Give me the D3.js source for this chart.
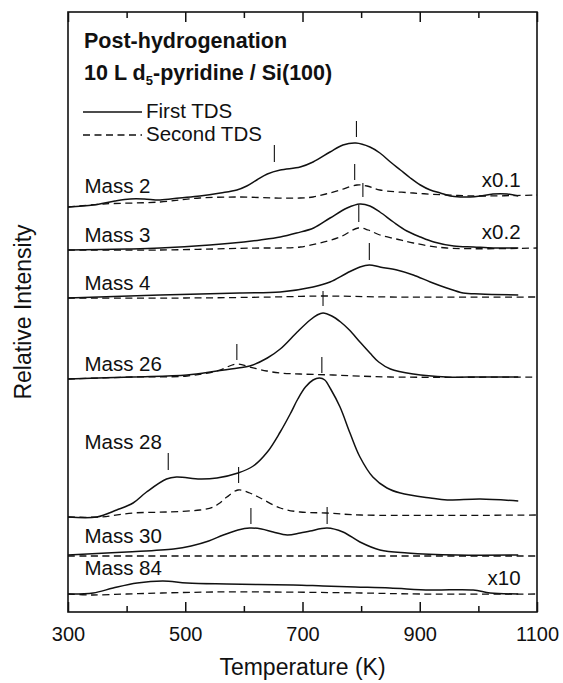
<!DOCTYPE html>
<html>
<head>
<meta charset="utf-8">
<script src="https://cdn.jsdelivr.net/npm/d3@7"></script>
<style>
  html, body { margin: 0; padding: 0; background: #fff; }
  svg { display: block; font-family: "Liberation Sans", Arial, Helvetica, sans-serif; }
</style>
</head>
<body>
<svg id="chart" width="563" height="683"></svg>
<script>
// Temperature ticks (K)
const majorTicks = [300, 500, 700, 900, 1100];
const minorTicks = [400, 600, 800, 1000];

// Traces: temperature (K) and stacked relative intensity (arbitrary units, offsets included)
const m2FirstT  = [300, 343, 380, 406, 430, 457, 490, 525, 560, 588, 605, 622, 640, 662, 696, 718, 747, 769, 791, 815, 832, 850, 867, 884, 901, 918, 935, 952, 969, 986, 1003, 1025, 1049, 1068];
const m2FirstI  = [405, 407, 411, 413, 413, 412, 414, 416, 419, 422, 426, 432, 438, 442, 445, 450, 460, 467, 469, 465, 459, 450, 442, 434, 427, 422, 419, 416, 415, 415, 416, 418, 418, 416];
const m2SecondT = [300, 360, 457, 525, 593, 650, 696, 718, 740, 764, 793, 810, 832, 889, 946, 1000, 1100];
const m2SecondI = [405, 408, 410, 414, 415, 414, 414, 415, 418, 422, 427, 426, 422, 419, 417, 416, 417];

const m3FirstT  = [300, 400, 457, 542, 600, 628, 662, 690, 719, 747, 776, 798, 815, 832, 855, 878, 901, 924, 958, 992, 1026, 1068];
const m3FirstI  = [362, 363, 364, 367, 370, 372, 375, 379, 384, 394, 404, 408, 406, 400, 390, 381, 375, 370, 366, 365, 364, 364];
const m3SecondT = [300, 457, 628, 662, 696, 730, 764, 795, 812, 832, 860, 889, 946, 1100];
const m3SecondI = [362, 362, 364, 364, 365, 369, 375, 384, 382, 377, 373, 369, 364, 364];

const m4FirstT  = [300, 457, 593, 662, 718, 747, 776, 798, 814, 832, 861, 889, 918, 946, 974, 1003, 1068];
const m4FirstI  = [314, 317, 319, 320, 325, 330, 339, 345, 347, 345, 342, 337, 330, 324, 319, 318, 317];
const m4SecondT = [300, 500, 650, 735, 850, 1100];
const m4SecondI = [314, 314, 315, 316, 315, 315];

const m26FirstT  = [300, 411, 503, 554, 590, 610, 640, 662, 691, 713, 725, 735, 750, 765, 780, 798, 815, 830, 850, 889, 946, 1003, 1068];
const m26FirstI  = [233, 235, 237, 241, 244, 246, 254, 263, 280, 292, 297, 299, 296, 290, 282, 270, 259, 250, 243, 238, 235, 235, 235];
const m26SecondT = [300, 411, 503, 554, 588, 610, 639, 662, 696, 752, 850, 1100];
const m26SecondI = [233, 235, 236, 241, 248, 245, 241, 239, 238, 237, 235, 235];

const m28FirstT  = [300, 349, 383, 411, 434, 468, 485, 525, 554, 590, 616, 640, 662, 679, 692, 705, 718, 729, 738, 748, 764, 781, 798, 820, 844, 867, 918, 947, 1003, 1068];
const m28FirstI  = [95, 95, 102, 109, 120, 133, 135, 133, 134, 139, 146, 160, 180, 198, 213, 225, 232, 234, 232, 223, 205, 179, 155, 135, 124, 119, 114, 112, 113, 111];
const m28SecondT = [300, 355, 411, 468, 525, 548, 559, 571, 590, 610, 628, 662, 696, 740, 800, 1100];
const m28SecondI = [95, 95, 99, 100, 102, 105, 109, 115, 122, 119, 114, 104, 100, 99, 97, 97];

const m30FirstT  = [300, 400, 480, 510, 540, 565, 590, 610, 630, 650, 674, 696, 713, 742, 769, 798, 832, 879, 964, 1068];
const m30FirstI  = [57, 60, 63, 66, 71, 77, 82, 84, 83, 80, 77, 79, 81, 84, 80, 70, 62, 59, 57, 57];
const m30SecondT = [300, 600, 900, 1100];
const m30SecondI = [56, 56, 56, 56];

const m84FirstT  = [300, 343, 377, 418, 462, 503, 571, 684, 735, 790, 849, 918, 991, 1020, 1068];
const m84FirstI  = [18, 19, 24, 29, 31, 29, 28, 27, 26, 25, 24, 22, 22, 19, 18];
const m84SecondT = [300, 340, 400, 460, 550, 650, 800, 900, 1100];
const m84SecondI = [18, 17, 18, 19, 20, 20, 19, 18, 18];

// Peak position markers: temperature and vertical extent (intensity units)
const markerT      = [652, 792, 789, 803, 796, 814, 735, 588, 471, 733, 591, 612, 742];
const markerTop    = [467, 491, 448, 429, 407, 369, 321, 268, 159, 255, 145, 104, 105];
const markerBottom = [450, 475, 432, 415, 390, 352, 306, 252, 142, 239, 129,  88,  88];

// Trace labels and scale factors
const massLabels  = ["Mass 2", "Mass 3", "Mass 4", "Mass 26", "Mass 28", "Mass 30", "Mass 84"];
const scaleLabels = ["x0.1", "x0.2", "x10"];

const svg = d3.select("#chart");
const margin = { left: 68, right: 26, top: 12, bottom: 71 };
const W = 563, H = 683;

const x = d3.scaleLinear().domain([300, 1100]).range([margin.left, W - margin.right]);
const y = d3.scaleLinear().domain([0, 600]).range([H - margin.bottom, margin.top]);

const ink = "#111";

const line = d3.line()
  .x(d => x(d[0]))
  .y(d => y(d[1]))
  .curve(d3.curveCatmullRom.alpha(0.5));

const zip = (a, b) => a.map((t, i) => [t, b[i]]);

const traces = [
  [m2FirstT, m2FirstI, m2SecondT, m2SecondI],
  [m3FirstT, m3FirstI, m3SecondT, m3SecondI],
  [m4FirstT, m4FirstI, m4SecondT, m4SecondI],
  [m26FirstT, m26FirstI, m26SecondT, m26SecondI],
  [m28FirstT, m28FirstI, m28SecondT, m28SecondI],
  [m30FirstT, m30FirstI, m30SecondT, m30SecondI],
  [m84FirstT, m84FirstI, m84SecondT, m84SecondI]
];

const plot = svg.append("g");

// second desorption run (dashed)
plot.selectAll("path.second")
  .data(traces)
  .join("path")
  .attr("class", "second")
  .attr("d", d => line(zip(d[2], d[3])))
  .attr("fill", "none")
  .attr("stroke", ink)
  .attr("stroke-width", 1.3)
  .attr("stroke-dasharray", "7,4.5");

// first desorption run (solid)
plot.selectAll("path.first")
  .data(traces)
  .join("path")
  .attr("class", "first")
  .attr("d", d => line(zip(d[0], d[1])))
  .attr("fill", "none")
  .attr("stroke", ink)
  .attr("stroke-width", 1.5);

// peak markers
plot.selectAll("line.marker")
  .data(markerT.map((t, i) => ({ t, top: markerTop[i], bottom: markerBottom[i] })))
  .join("line")
  .attr("class", "marker")
  .attr("x1", d => x(d.t)).attr("x2", d => x(d.t))
  .attr("y1", d => y(d.top)).attr("y2", d => y(d.bottom))
  .attr("stroke", ink)
  .attr("stroke-width", 1.1);

// frame
svg.append("rect")
  .attr("x", x(300)).attr("y", y(600))
  .attr("width", x(1100) - x(300)).attr("height", y(0) - y(600))
  .attr("fill", "none").attr("stroke", ink).attr("stroke-width", 1.6);

// bottom axis: inward ticks, labels below
const xMajor = svg.append("g")
  .attr("transform", `translate(0,${y(0)})`)
  .call(d3.axisBottom(x).tickValues(majorTicks).tickSize(-10).tickPadding(15).tickFormat(d3.format("d")));
const xMinor = svg.append("g")
  .attr("transform", `translate(0,${y(0)})`)
  .call(d3.axisBottom(x).tickValues(minorTicks).tickSize(-6).tickFormat(""));
// top axis: inward ticks only
const tMajor = svg.append("g")
  .attr("transform", `translate(0,${y(600)})`)
  .call(d3.axisTop(x).tickValues(majorTicks).tickSize(-10).tickFormat(""));
const tMinor = svg.append("g")
  .attr("transform", `translate(0,${y(600)})`)
  .call(d3.axisTop(x).tickValues(minorTicks).tickSize(-6).tickFormat(""));

[xMajor, xMinor, tMajor, tMinor].forEach(g => {
  g.select(".domain").remove();
  g.selectAll(".tick line").attr("stroke", ink).attr("stroke-width", 1.5);
});
xMajor.selectAll(".tick text")
  .attr("fill", ink)
  .style("font-size", "20px")
  .style("font-family", "'Liberation Sans', Arial, sans-serif");

// axis titles
svg.append("text")
  .attr("x", (x(300) + x(1100)) / 2).attr("y", 675)
  .attr("text-anchor", "middle")
  .attr("fill", ink)
  .style("font-size", "23px")
  .text("Temperature (K)");

svg.append("text")
  .attr("transform", `translate(31,${(y(0) + y(600)) / 2}) rotate(-90)`)
  .attr("text-anchor", "middle")
  .attr("fill", ink)
  .style("font-size", "23px")
  .text("Relative Intensity");

// heading
svg.append("text")
  .attr("x", 84).attr("y", 48)
  .attr("fill", ink)
  .style("font-size", "21.5px").style("font-weight", "bold")
  .text("Post-hydrogenation");

const h2 = svg.append("text")
  .attr("x", 84).attr("y", 80)
  .attr("fill", ink)
  .style("font-size", "21.5px").style("font-weight", "bold");
h2.append("tspan").text("10 L d");
h2.append("tspan").attr("dy", 5).style("font-size", "13px").text("5");
h2.append("tspan").attr("dy", -5).text("-pyridine / Si(100)");

// legend
const legendItems = [
  { label: "First TDS", dash: null, y: 112 },
  { label: "Second TDS", dash: "7,4.5", y: 135 }
];
const lg = svg.append("g");
legendItems.forEach(it => {
  lg.append("line")
    .attr("x1", 83).attr("x2", 142)
    .attr("y1", it.y).attr("y2", it.y)
    .attr("stroke", ink)
    .attr("stroke-width", it.dash ? 1.3 : 1.5)
    .attr("stroke-dasharray", it.dash);
  lg.append("text")
    .attr("x", 146).attr("y", it.y + 6)
    .attr("fill", ink)
    .style("font-size", "20.5px")
    .text(it.label);
});

// trace labels, placed in data coordinates (temperature, intensity)
const massLabelPos = [[328, 419], [328, 370], [328, 322], [328, 241], [328, 163], [328, 69], [328, 37]];
svg.selectAll("text.mass")
  .data(massLabels)
  .join("text")
  .attr("class", "mass")
  .attr("x", (d, i) => x(massLabelPos[i][0]))
  .attr("y", (d, i) => y(massLabelPos[i][1]))
  .attr("fill", ink)
  .style("font-size", "20.5px")
  .text(d => d);

const scaleLabelPos = [[1072, 425], [1072, 373], [1072, 27]];
svg.selectAll("text.factor")
  .data(scaleLabels)
  .join("text")
  .attr("class", "factor")
  .attr("x", (d, i) => x(scaleLabelPos[i][0]))
  .attr("y", (d, i) => y(scaleLabelPos[i][1]))
  .attr("text-anchor", "end")
  .attr("fill", ink)
  .style("font-size", "20.5px")
  .text(d => d);
</script>
</body>
</html>
